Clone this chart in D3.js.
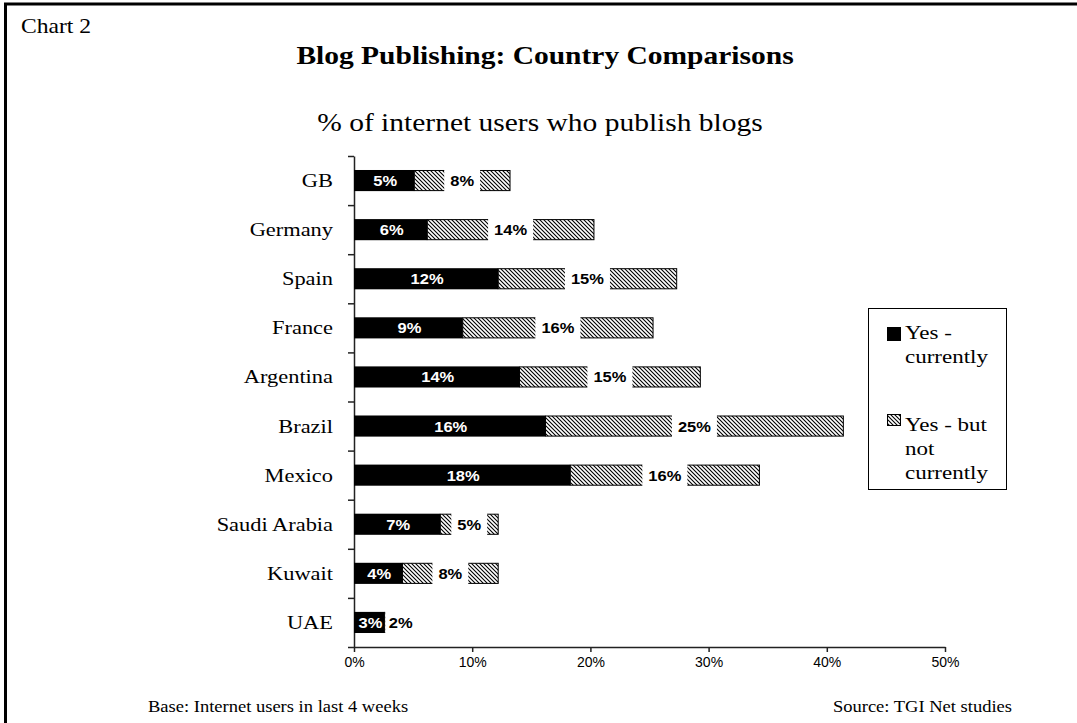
<!DOCTYPE html>
<html>
<head>
<meta charset="utf-8">
<script src="https://cdn.jsdelivr.net/npm/d3@7"></script>
<style>
  body { margin: 0; background: #fff; }
  svg { display: block; }
</style>
</head>
<body>
<svg id="chart" width="1077" height="723"></svg>
<script>
// data
var countries = ["GB", "Germany", "Spain", "France", "Argentina", "Brazil", "Mexico", "Saudi Arabia", "Kuwait", "UAE"];
var current = [5.1, 6.2, 12.2, 9.2, 14.0, 16.2, 18.3, 7.3, 4.1, 2.6];
var past = [8.1, 14.1, 15.1, 16.1, 15.3, 25.2, 16.0, 4.9, 8.1, 2.0];
var seriesNames = ["Yes - currently", "Yes - but not currently"];
var xTicks = [0, 10, 20, 30, 40, 50];

var SX = 1.18; // the source text is a bit wider than it is tall
var serif = "'Liberation Serif', 'Times New Roman', serif";
var sans = "'Liberation Sans', Arial, sans-serif";

var svg = d3.select("#chart");

// hatch fill
svg.append("defs").append("pattern")
    .attr("id", "hatch")
    .attr("patternUnits", "userSpaceOnUse")
    .attr("width", 4).attr("height", 4)
  .append("path")
    .attr("d", "M-1,-1L5,5M3,-1L5,1M-1,3L1,5")
    .attr("stroke", "#000")
    .attr("stroke-width", 1.1);

// frame (only top and left edges show)
svg.append("rect")
    .attr("x", 5.5).attr("y", 4)
    .attr("width", 1200).attr("height", 900)
    .attr("fill", "none").attr("stroke", "#000").attr("stroke-width", 3);

function stretched(sel, x, y) {
  return sel.attr("transform", "translate(" + x + "," + y + ") scale(" + SX + ",1)");
}

var x = d3.scaleLinear().domain([0, 50]).range([354, 945]);
var y = d3.scaleBand().domain(countries).range([156, 647]).paddingInner(0.57).paddingOuter(0.285);
var yEdge = d3.scaleLinear().domain([0, countries.length]).range([156, 647]);

// titles
stretched(svg.append("text"), 21, 33)
    .style("font-family", serif).style("font-size", "20px")
    .text("Chart 2");
stretched(svg.append("text"), 545, 64)
    .attr("text-anchor", "middle")
    .style("font-family", serif).style("font-size", "25px").style("font-weight", "bold")
    .text("Blog Publishing: Country  Comparisons");
stretched(svg.append("text"), 540, 131)
    .attr("text-anchor", "middle")
    .style("font-family", serif).style("font-size", "25px")
    .text("% of internet users who publish blogs");

// axes
var xAxis = svg.append("g")
    .attr("transform", "translate(0,647)")
    .call(d3.axisBottom(x).tickValues(xTicks).tickSize(5).tickSizeOuter(0)
      .tickFormat(function(d) { return d + "%"; }));
xAxis.selectAll("text")
    .attr("y", 10)
    .style("font-family", sans).style("font-size", "14px").attr("fill", "#000");

var yAxis = svg.append("g")
    .attr("transform", "translate(354,0)")
    .call(d3.axisLeft(yEdge).ticks(countries.length).tickSize(6).tickSizeOuter(0).tickFormat(""));

svg.selectAll(".domain, .tick line").attr("stroke", "#222").attr("stroke-width", 1.5);

// category labels
svg.append("g").selectAll("text")
  .data(countries)
  .join("text")
    .attr("transform", function(d) {
      return "translate(333," + (y(d) + y.bandwidth() / 2 + 6.5) + ") scale(" + SX + ",1)";
    })
    .attr("text-anchor", "end")
    .style("font-family", serif).style("font-size", "19px")
    .text(function(d) { return d; });

// bars
var rows = countries.map(function(c, i) {
  return { name: c, cur: current[i], past: past[i] };
});

var bars = svg.append("g");
bars.selectAll(".cur")
  .data(rows)
  .join("rect")
    .attr("class", "cur")
    .attr("x", x(0))
    .attr("y", function(d) { return y(d.name); })
    .attr("width", function(d) { return x(d.cur) - x(0); })
    .attr("height", y.bandwidth())
    .attr("fill", "#000");

bars.selectAll(".past")
  .data(rows)
  .join("rect")
    .attr("class", "past")
    .attr("x", function(d) { return x(d.cur); })
    .attr("y", function(d) { return y(d.name) + 0.5; })
    .attr("width", function(d) { return x(d.cur + d.past) - x(d.cur); })
    .attr("height", y.bandwidth() - 1)
    .attr("fill", "url(#hatch)")
    .attr("stroke", "#000").attr("stroke-width", 1);

// value labels
var labelSize = 15;
var LSX = 1.1;
svg.append("g").selectAll("text")
  .data(rows)
  .join("text")
    .attr("transform", function(d) {
      return "translate(" + (x(d.cur / 2) + 1) + "," + (y(d.name) + y.bandwidth() / 2 + 5.5) + ") scale(" + LSX + ",1)";
    })
    .attr("text-anchor", "middle")
    .attr("fill", "#fff")
    .style("font-family", sans).style("font-size", labelSize + "px").style("font-weight", "bold")
    .text(function(d) { return Math.round(d.cur) + "%"; });

var pastLabels = svg.append("g").selectAll("g")
  .data(rows)
  .join("g")
    .attr("transform", function(d) {
      return "translate(" + x(d.cur + d.past / 2) + "," + (y(d.name) + y.bandwidth() / 2) + ")";
    });

pastLabels.append("text")
    .attr("text-anchor", "middle")
    .style("font-family", sans).style("font-size", labelSize + "px").style("font-weight", "bold")
    .text(function(d) { return Math.round(d.past) + "%"; });

// keep label clear of the black segment, white box behind it
pastLabels.each(function(d) {
  var g = d3.select(this);
  var txt = g.select("text");
  var w = txt.node().getBBox().width * LSX;
  var edge = x(d.cur) - x(d.cur + d.past / 2); // black edge, relative
  var shift = Math.max(0, edge + 4 + w / 2);
  txt.attr("transform", "translate(" + shift + ",5.5) scale(" + LSX + ",1)");
  var left = Math.max(shift - w / 2 - 6, edge + 0.5);
  g.insert("rect", "text")
      .attr("x", left)
      .attr("y", -y.bandwidth() / 2 - 1)
      .attr("width", shift + w / 2 + 6 - left)
      .attr("height", y.bandwidth() + 2)
      .attr("fill", "#fff");
});

// legend
var legend = svg.append("g");
legend.append("rect")
    .attr("x", 868.5).attr("y", 308.5).attr("width", 138).attr("height", 181)
    .attr("fill", "#fff").attr("stroke", "#000").attr("stroke-width", 1);

legend.append("rect")
    .attr("x", 887).attr("y", 327).attr("width", 14).attr("height", 14)
    .attr("fill", "#000");
legend.append("rect")
    .attr("x", 887.5).attr("y", 414.5).attr("width", 13).attr("height", 11)
    .attr("fill", "url(#hatch)").attr("stroke", "#000").attr("stroke-width", 1);

var legendLines = [
  [seriesNames[0].slice(0, 5), 905, 339],
  [seriesNames[0].slice(6), 905, 363],
  [seriesNames[1].slice(0, 9), 905, 431],
  [seriesNames[1].slice(10, 13), 905, 455],
  [seriesNames[1].slice(14), 905, 479]
];
legend.selectAll(".lt")
  .data(legendLines)
  .join("text")
    .attr("class", "lt")
    .attr("transform", function(d) { return "translate(" + d[1] + "," + d[2] + ") scale(" + SX + ",1)"; })
    .style("font-family", serif).style("font-size", "19.5px")
    .text(function(d) { return d[0]; });

// footers
stretched(svg.append("text"), 148, 712)
    .style("font-family", serif).style("font-size", "15.7px")
    .text("Base: Internet users in last 4 weeks");
stretched(svg.append("text"), 1012, 712)
    .attr("text-anchor", "end")
    .style("font-family", serif).style("font-size", "15.7px")
    .text("Source: TGI Net studies");
</script>
</body>
</html>
